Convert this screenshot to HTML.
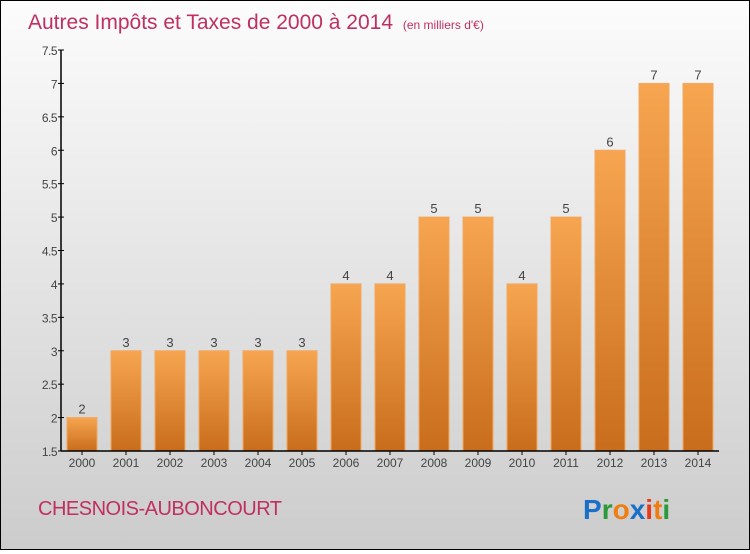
<!DOCTYPE html>
<html><head><meta charset="utf-8"><style>
html,body{margin:0;padding:0}
body{width:750px;height:550px;overflow:hidden}
#wrap{position:relative;width:748px;height:548px;border:1px solid #000;background:linear-gradient(#fcfcfc,#cccccc);font-family:"Liberation Sans",sans-serif}
</style></head><body>
<div id="wrap">
<svg id="chart" width="748" height="548">
<defs><linearGradient id="bg" x1="0" y1="0" x2="0" y2="1"><stop offset="0" stop-color="#f7a550"/><stop offset="1" stop-color="#c86d1c"/></linearGradient></defs>
<text x="27" y="28" font-size="21" fill="#c0305e" style="font-weight:300">Autres Impôts et Taxes de 2000 à 2014 <tspan font-size="12" dx="4">(en milliers d'€)</tspan></text>
<text x="37" y="514" font-size="20" fill="#c0305e" letter-spacing="-0.5">CHESNOIS-AUBONCOURT</text>
<g id="logo" font-size="28" font-weight="bold" font-family="Liberation Sans, sans-serif">
<text x="582" y="518"><tspan fill="#1a6fc9">P</tspan><tspan fill="#2a9a3a">r</tspan><tspan fill="#f07d12">o</tspan><tspan fill="#1a6fc9">x</tspan><tspan fill="#e63a1e">i</tspan><tspan fill="#f07d12">t</tspan><tspan fill="#2a9a3a">i</tspan></text>
</g>
<g id="plot"></g>
</svg>
</div>
<script>
const categories=["2000","2001","2002","2003","2004","2005","2006","2007","2008","2009","2010","2011","2012","2013","2014"];
const values=[2,3,3,3,3,3,4,4,5,5,4,5,6,7,7];
const yTicks=[1.5,2,2.5,3,3.5,4,4.5,5,5.5,6,6.5,7,7.5];
const yMin=1.5,yMax=7.5,plotTop=49,plotBottom=450,axisX=60,x0=81,step=44,bw=30;
const yScale=v=>plotBottom-(v-yMin)/(yMax-yMin)*(plotBottom-plotTop);
const xc=i=>x0+i*step;
const ns="http://www.w3.org/2000/svg";
const g=document.getElementById('plot');
function mk(t,a,txt){const e=document.createElementNS(ns,t);for(const k in a)e.setAttribute(k,a[k]);if(txt!=null)e.textContent=txt;g.appendChild(e);return e;}
values.forEach((v,i)=>{
 const r=mk('rect',{x:xc(i)-bw/2,y:yScale(v),width:bw,height:plotBottom-yScale(v),fill:'url(#bg)',stroke:'#f2a860','stroke-width':1});
 
 
 const t=mk('text',{x:xc(i),y:yScale(v)-4,'text-anchor':'middle','font-size':13,fill:'#444'},String(v));
 
 
 const c=mk('text',{x:xc(i),y:plotBottom+16,'text-anchor':'middle','font-size':12,fill:'#444'},categories[i]);
 
 
 const tk=mk('line',{x1:xc(i),x2:xc(i),y1:plotBottom,y2:plotBottom+4,stroke:'#000'});
 
 
});
yTicks.forEach(v=>{
 const l=mk('line',{x1:axisX-3,x2:axisX+3,y1:yScale(v),y2:yScale(v),stroke:'#000'});
 
 
 const t=mk('text',{x:axisX-4,y:yScale(v)+5,'text-anchor':'end','font-size':12,fill:'#444','letter-spacing':'-0.5'},String(v));
 
 
});
const ya=mk('line',{x1:axisX,x2:axisX,y1:plotTop,y2:plotBottom,stroke:'#000','stroke-width':1.5});


const xa=mk('line',{x1:axisX,x2:718,y1:plotBottom,y2:plotBottom,stroke:'#000','stroke-width':1.5});


</script>
</body></html>
